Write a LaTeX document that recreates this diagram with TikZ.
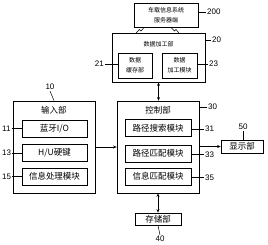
\documentclass[tikz,border=0pt]{standalone}
\usepackage{fontspec}
\newfontfamily\cjk{Noto Sans CJK SC}
\setsansfont{Liberation Sans}
\usetikzlibrary{arrows.meta}

\begin{document}
\begin{tikzpicture}[
    x=1pt, y=-1pt,
    box/.style={draw, line width=0.7pt, inner sep=0pt},
    modbox/.style={box, line width=1pt, minimum width=65pt, minimum height=17pt, font=\cjk\fontsize{8.5}{9}\selectfont},
    title/.style={font=\cjk\fontsize{8.5}{9}\selectfont, inner sep=1pt},
    small/.style={font=\cjk\fontsize{6}{8}\selectfont, align=center},
    num/.style={font=\sffamily\fontsize{8}{9}\selectfont, inner sep=1pt},
    lead/.style={line width=0.5pt},
    link/.style={line width=0.7pt, -{Stealth[length=3.5pt,width=3pt]}},
    dlink/.style={line width=0.7pt, {Stealth[length=3.5pt,width=3pt]}-{Stealth[length=3.5pt,width=3pt]}},
  ]
    \useasboundingbox (0,0) rectangle (268,244);
    % server and data processing unit
    \node[box, small, minimum width=64pt, minimum height=24pt] (srv) at (166,15) {车载信息系统\\[2pt]服务器端};
    \node[num, anchor=west] (l200) at (206,12) {200};
    \draw[lead] (srv.east |- l200) -- (l200.west);
    \draw[lead] (136,33) -- (139.5,29.5) -- (141,31) -- (144,27.5);
    \draw[lead] (171,27.5) -- (174.5,31) -- (176,29.5) -- (179,33);
    \node[box, minimum width=93pt, minimum height=49pt] (proc) at (158.5,57.5) {};
    \node[small] (tproc) at (158.5,44) {数据加工部};
    \node[num, anchor=west] (l20) at (211,40) {20};
    \draw[lead] (proc.east |- l20) -- (l20.west);
    \node[box, small, line width=1pt, minimum width=34pt, minimum height=25pt] (cache) at (135,65.5) {数据\\[2pt]缓存部};
    \node[box, small, line width=1pt, minimum width=35pt, minimum height=25pt] (pmod) at (179.5,65.5) {数据\\[2pt]加工模块};
    \node[num, anchor=east] (l21) at (105,64) {21};
    \node[num, anchor=west] (l23) at (208,64) {23};
    \draw[lead] (l21.east) -- (cache.west |- l21);
    \draw[lead] (pmod.east |- l23) -- (l23.west);
    % input unit
    \node[box, minimum width=82pt, minimum height=92pt] (inp) at (54,147) {};
    \node[title] (tinp) at (54,110) {输入部};
    \node[num] (l10) at (50,87) {10};
    \draw[lead] (l10.south) -- (inp.north);
    \foreach \n/\y/\t in {11/128.5/{蓝牙I/O}, 13/153/{H/U硬键}, 15/176.5/{信息处理模块}} {
      \node[modbox] (m\n) at (54.5,\y) {\t};
      \node[num, anchor=west] (l\n) at (1,\y) {\n};
      \draw[lead] (l\n.east) -- (m\n.west);
    }
    % control unit
    \node[box, minimum width=82pt, minimum height=92pt] (ctrl) at (158,147) {};
    \node[title] (tctrl) at (158,110) {控制部};
    \node[num, anchor=west] (l30) at (207,107) {30};
    \draw[lead] (ctrl.east |- l30) -- (l30.west);
    \foreach \n/\y/\t in {31/128/{路径搜索模块}, 33/153.5/{路径匹配模块}, 35/176.5/{信息匹配模块}} {
      \node[modbox, minimum width=66pt] (m\n) at (158,\y) {\t};
      \node[num, anchor=west] (l\n) at (204,\y+1) {\n};
      \draw[lead] (m\n.east |- l\n) -- (l\n.west);
    }
    % display and storage
    \node[box, title, minimum width=42pt, minimum height=13pt] (disp) at (242,146.5) {显示部};
    \node[num] (l50) at (243,127) {50};
    \draw[lead] (l50.south) -- (l50.south |- disp.north);
    \node[box, title, minimum width=46pt, minimum height=12pt] (store) at (158,219) {存储部};
    \node[num] (l40) at (160,239) {40};
    \draw[lead] (store.south) -- (l40.north);
    % connections
    \draw[dlink] (proc.south) -- (proc.south |- ctrl.north);
    \draw[dlink] (ctrl.south) -- (store.north);
    \draw[link] (inp.east) -- (ctrl.west);
    \draw[link] (ctrl.east |- disp.west) -- (disp.west);
  \end{tikzpicture}
\end{document}
